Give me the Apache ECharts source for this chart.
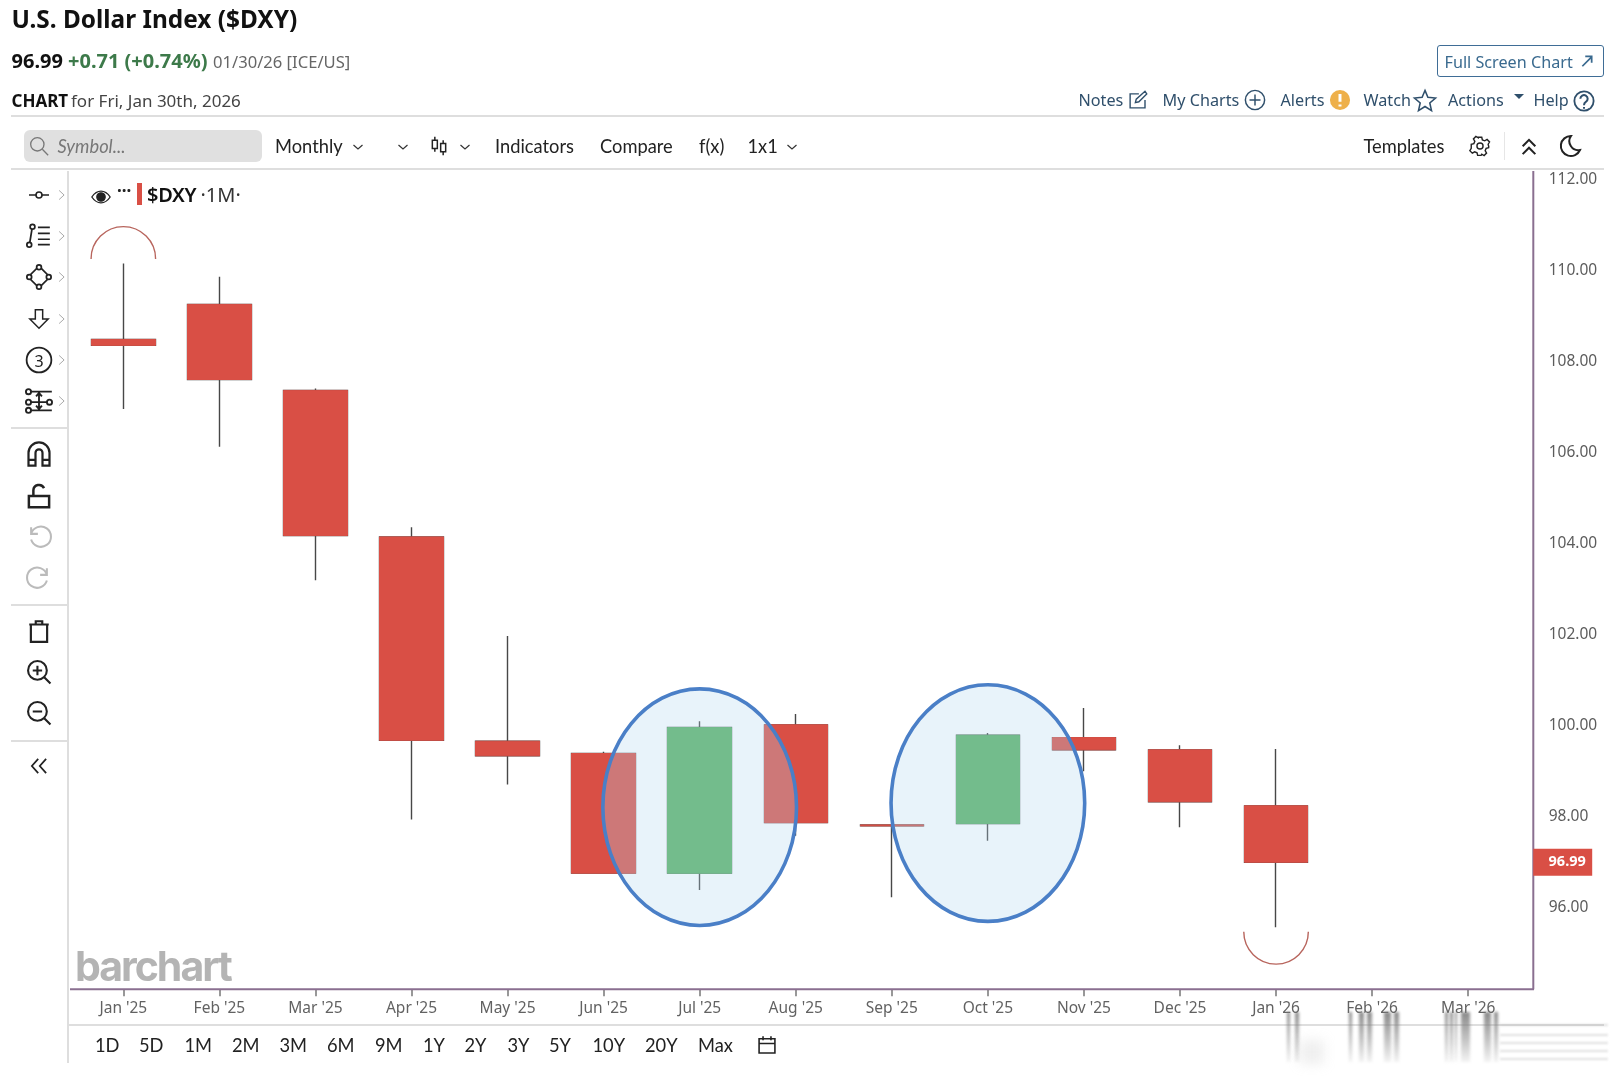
<!DOCTYPE html>
<html>
<head>
<meta charset="utf-8">
<title>U.S. Dollar Index ($DXY)</title>
<script src="https://cdn.jsdelivr.net/npm/echarts@6/dist/echarts.min.js"></script>
<style>
  html, body { margin: 0; padding: 0; background: #fff; }
  #page { position: relative; width: 1615px; height: 1080px; overflow: hidden; }
  #chart { position: absolute; left: 0; top: 0; width: 1615px; height: 1080px; }
  .t { position: absolute; white-space: nowrap; transform: translateY(-50%); line-height: 1; }
  .lato { font-family: Lato, sans-serif; font-size: 18.3px; color: #222; }
  .link { font-family: "Noto Sans", sans-serif; font-size: 16.2px; color: #2f4f6b; }
  .sans { font-family: "Noto Sans", sans-serif; }
  .rule { position: absolute; background: #dedede; }
  .icon { position: absolute; transform: translate(-50%, -50%); overflow: visible; fill: none; stroke: #222; stroke-width: 1.6; }
  .smudge { position: absolute; top: 1012px; height: 50px; background: linear-gradient(rgba(125,125,125,.9), rgba(160,160,160,.12)); filter: blur(1.5px); }
</style>
</head>
<body>
<div id="page">
  <div id="chart"></div>
</div>
<script>
  "use strict";

  // monthly candles
  var categories = ["Jan '25", "Feb '25", "Mar '25", "Apr '25", "May '25", "Jun '25", "Jul '25", "Aug '25",
    "Sep '25", "Oct '25", "Nov '25", "Dec '25", "Jan '26", "Feb '26", "Mar '26"];
  var opens = [108.48, 109.25, 107.36, 104.14, 99.65, 99.38, 96.75, 100.01, 97.81, 97.84, 99.73, 99.46, 98.23];
  var closes = [108.35, 107.60, 104.17, 99.67, 99.33, 96.75, 99.95, 97.86, 97.79, 99.78, 99.46, 98.32, 96.99];
  var lows = [106.95, 106.12, 103.19, 97.93, 98.70, 96.75, 96.38, 97.57, 96.22, 97.46, 98.99, 97.76, 95.56];
  var highs = [110.15, 109.86, 107.40, 104.35, 101.96, 99.42, 100.09, 100.25, 97.81, 99.83, 100.38, 99.56, 99.48];
  var priceTicks = [96, 98, 100, 102, 104, 106, 108, 110, 112];

  // hand drawn marks on the chart: [category index, centre value]
  var circledMonths = [[6, 98.2], [9, 98.29]];
  var topArcs = [[0, 110.25]];
  var bottomArcs = [[12, 95.46]];
  var lastPrice = 96.99;

  var RED = "#d94f45";
  var GREEN = "#58b062"; // looks paler once the blue circle sits on it
  var WICK = "#474747";
  var FRAME = "#8a6f90";

  var candleData = opens.map(function (o, i) { return [o, closes[i], lows[i], highs[i]]; });
  var bodyData = opens.map(function (o, i) {
    return [o, closes[i], Math.min(o, closes[i]), Math.max(o, closes[i])];
  });

  function renderCircle(params, api) {
    var c = api.coord([api.value(0), api.value(1)]);
    var rx = api.size([1, 0])[0] * 1.008;
    var ry = api.size([0, 2.6])[1];
    return {
      type: "ellipse",
      shape: { cx: c[0], cy: c[1], rx: rx, ry: ry },
      style: { fill: "rgba(178,215,238,0.3)", stroke: "#4a7fc7", lineWidth: 3.6 }
    };
  }

  function renderArc(start, end) {
    return function (params, api) {
      var c = api.coord([api.value(0), api.value(1)]);
      return {
        type: "arc",
        shape: { cx: c[0], cy: c[1], r: api.size([1, 0])[0] * 0.336, startAngle: start, endAngle: end, clockwise: true },
        style: { fill: null, stroke: "#b8655d", lineWidth: 1.4 }
      };
    };
  }

  function renderLastPrice(params, api) {
    var y = api.coord([0, api.value(1)])[1];
    var x = params.coordSys.x + params.coordSys.width + 17;
    return {
      type: "group",
      children: [
        { type: "rect", shape: { x: x, y: y - 13.5, width: 59, height: 27 }, style: { fill: RED } },
        {
          type: "text",
          x: x + 34,
          y: y,
          style: {
            text: api.value(1).toFixed(2), fill: "#fff", font: "bold 14.5px 'Noto Sans'",
            align: "center", verticalAlign: "middle"
          }
        }
      ]
    };
  }

  var chart = echarts.init(document.getElementById("chart"), null, { renderer: "canvas" });
  chart.setOption({
    animation: false,
    backgroundColor: "transparent",
    grid: { left: 75.3, top: 171.1, width: 1440.9, height: 818.1 },
    xAxis: {
      type: "category",
      data: categories,
      axisLine: { show: false },
      axisTick: { show: true, alignWithLabel: true, length: 7, lineStyle: { color: "#777", width: 1.5 } },
      axisLabel: { color: "#626262", fontFamily: "Noto Sans", fontSize: 15.5, margin: 11, interval: 0 }
    },
    yAxis: {
      type: "value",
      position: "right",
      min: 94.2,
      max: 112.18,
      axisLine: { show: false },
      axisTick: { show: false },
      splitLine: { show: false },
      axisLabel: {
        customValues: priceTicks,
        color: "#5c5c5c",
        fontFamily: "Noto Sans",
        fontSize: 15.5,
        margin: 32.5,
        padding: [3, 0, 0, 0],
        formatter: function (v) { return v.toFixed(2); }
      }
    },
    graphic: [
      { type: "line", z: 5, shape: { x1: 70, y1: 989.2, x2: 1534, y2: 989.2 }, style: { stroke: FRAME, lineWidth: 2 } },
      { type: "line", z: 5, shape: { x1: 1533.3, y1: 171, x2: 1533.3, y2: 989.2 }, style: { stroke: FRAME, lineWidth: 2 } }
    ],
    series: [
      {
        name: "wicks",
        type: "candlestick",
        data: candleData,
        barWidth: 64,
        itemStyle: { color: WICK, color0: WICK, borderColor: WICK, borderColor0: WICK, borderWidth: 1.4 },
        silent: true,
        z: 2
      },
      {
        name: "$DXY",
        type: "candlestick",
        data: bodyData,
        barWidth: 64,
        // rising month green, falling month red
        itemStyle: { color: GREEN, color0: RED, borderColor: GREEN, borderColor0: RED, borderWidth: 1 },
        z: 3
      },
      { type: "custom", name: "circled", data: circledMonths, renderItem: renderCircle, silent: true, z: 4 },
      { type: "custom", name: "top arc", data: topArcs, renderItem: renderArc(Math.PI, Math.PI * 2), silent: true, z: 4 },
      { type: "custom", name: "bottom arc", data: bottomArcs, renderItem: renderArc(0, Math.PI), silent: true, z: 4 },
      { type: "custom", name: "last", data: [[0, lastPrice]], renderItem: renderLastPrice, silent: true, z: 6 }
    ]
  });

  // page furniture around the chart
  var page = document.getElementById("page");

  function text(str, x, y, cls, css) {
    var el = document.createElement("span");
    el.className = "t " + (cls || "");
    el.textContent = str;
    el.style.left = x + "px";
    el.style.top = y + "px";
    if (css) el.style.cssText += ";" + css;
    page.appendChild(el);
  }

  function rule(x, y, w, h, color) {
    var el = document.createElement("div");
    el.className = "rule";
    el.style.cssText = "left:" + x + "px;top:" + y + "px;width:" + w + "px;height:" + h + "px;" + (color ? "background:" + color : "");
    page.appendChild(el);
  }

  function icon(x, y, size, body, css) {
    var holder = document.createElement("div");
    holder.innerHTML = '<svg class="icon" width="' + size + '" height="' + size + '" viewBox="0 0 24 24" style="left:' + x + "px;top:" + y + "px;" + (css || "") + '">' + body + "</svg>";
    page.appendChild(holder.firstChild);
  }

  rule(11, 115, 1593, 2);
  rule(11, 168, 1593, 2);
  rule(67, 171, 1.5, 892);
  rule(67, 1024, 1537, 1.5);
  rule(11, 427, 56, 1.5);
  rule(11, 604, 56, 1.5);
  rule(11, 740, 56, 1.5);
  rule(1504, 132, 1, 28, "#e6e6e6");

  text("U.S. Dollar Index ($DXY)", 11.5, 19, "sans", "font-size:24.4px;font-weight:700;color:#111");
  text("96.99", 11.5, 60.5, "sans", "font-size:20px;font-weight:700;color:#111");
  text("+0.71 (+0.74%)", 68, 60.5, "sans", "font-size:20px;font-weight:700;color:#3d7a4a");
  text("01/30/26 [ICE/US]", 213, 61.5, "sans", "font-size:16.6px;color:#666");
  text("CHART", 11.5, 99.5, "sans", "font-size:17px;font-weight:700;color:#111");
  text("for Fri, Jan 30th, 2026", 71, 99.5, "sans", "font-size:17px;color:#444");

  // top right links
  var box = document.createElement("div");
  box.style.cssText = "position:absolute;left:1437px;top:45px;width:165px;height:30px;border:1.5px solid #3f6d96;border-radius:3px";
  page.appendChild(box);
  text("Full Screen Chart", 1444.5, 62, "link", "color:#3a6a8f");
  icon(1587, 61, 14, '<path d="M4 21 20 5M9 4h11v11" stroke-width="3"/>', "stroke:#3a6a8f");
  text("Notes", 1078.5, 100, "link");
  icon(1138, 100, 21, '<path d="M20 12v9H3V5h10M9 15l1-4L20 2l2 3-9 9z"/>', "stroke:#2f4f6b");
  text("My Charts", 1162.5, 100, "link");
  icon(1255, 100, 22, '<circle cx="12" cy="12" r="10.5"/><path d="M12 6v12M6 12h12"/>', "stroke:#2f4f6b");
  text("Alerts", 1280.5, 100, "link");
  icon(1340, 100, 21, '<circle cx="12" cy="12" r="11.5" fill="#eeb04a" stroke="none"/><path d="M12 5v9M12 17v2.4" stroke="#fff" stroke-width="3.4"/>');
  text("Watch", 1363.5, 100, "link");
  icon(1425, 100, 23, '<path d="M12 2l3 7.200 8 .7-6 5.200 1.800 7.900-6.800-4.200-6.800 4.200 1.800-7.900-6-5.200 8-.7z"/>', "stroke:#2f4f6b");
  text("Actions", 1448, 100, "link");
  icon(1519, 97, 12, '<path d="M2 6h20l-10 10z" fill="#2f4f6b" stroke="none"/>');
  text("Help", 1533.5, 100, "link");
  icon(1584, 101, 22, '<circle cx="12" cy="12" r="10.5" stroke-width="2"/><path d="M8 9.500a4 4 0 1 1 6 3.500c-1.500 1-2 1.500-2 3.500M12 18.500v2" stroke-width="2.200"/>', "stroke:#2f4f6b");

  // toolbar
  var search = document.createElement("div");
  search.style.cssText = "position:absolute;left:24px;top:130px;width:238px;height:32px;background:#e0e0e0;border-radius:6px";
  page.appendChild(search);
  icon(39, 146, 20, '<circle cx="10" cy="10" r="8"/><path d="M16 16l7 7"/>', "stroke:#777");
  text("Symbol...", 57.5, 146, "lato", "font-style:italic;color:#777");
  text("Monthly", 275, 146, "lato");
  text("Indicators", 495, 146, "lato");
  text("Compare", 600, 146, "lato");
  text("f(x)", 699, 146, "lato");
  text("1x1", 747.5, 146, "lato");
  text("Templates", 1363.5, 146, "lato");
  [358, 403, 465, 792].forEach(function (x) {
    icon(x, 147, 12, '<path d="M3 8l9 8 9-8" stroke-width="2.400"/>', "stroke:#333");
  });
  icon(439, 146, 20, '<path d="M7 1v4M7 15v4M4 5h6v10H4zM17 5v4M17 19v4M14 9h6v10h-6z" stroke-width="1.800"/>');
  icon(1480, 146, 21, '<circle cx="12" cy="12" r="3.500"/><path d="M10 2h4l.7 3 2.700 1.100 2.700-1.600 2.800 2.800-1.600 2.700L22 12.700l-.1 1.300-2.900.7-1.100 2.700 1.600 2.700-2.800 2.800-2.700-1.600-.7 1.400h-4l-.7-3-2.700-1.100-2.700 1.600-2.800-2.800 1.600-2.700L2 14v-4l3-.7 1.100-2.700L4.500 3.900l2.800-2.800 2.700 1.600z"/>');
  icon(1529, 147, 19, '<path d="M4 11l8-8 8 8M4 21l8-8 8 8" stroke-width="2.600"/>');
  icon(1570, 146, 24, '<path d="M13 2a10 10 0 1 0 9 14A9 9 0 0 1 13 2z" stroke-width="2"/>');

  // legend row
  icon(100.5, 197, 20, '<path d="M1 12c4-6 8-7 11-7s7 1 11 7c-4 6-8 7-11 7s-7-1-11-7z"/><circle cx="12" cy="12" r="5" fill="#222"/>');
  text("\u00b7\u00b7\u00b7", 117, 190, "sans", "font-size:17px;font-weight:700;color:#222");
  rule(136.5, 183, 5, 22, RED);
  text("$DXY", 147, 195, "sans", "font-size:20px;font-weight:600;color:#111;letter-spacing:-.3px");
  text("\u00b71M\u00b7", 200.5, 195, "sans", "font-size:20px;color:#333");

  // drawing tools on the left
  var toolY = [195, 236, 277, 319, 360, 401];
  toolY.forEach(function (y) {
    icon(62, y, 10, '<path d="M5 1l12 11L5 23" stroke-width="2"/>', "stroke:#999");
  });
  icon(39, 195, 24, '<path d="M2 12h7M15 12h7"/><circle cx="12" cy="12" r="3"/>');
  icon(39, 236, 26, '<circle cx="6" cy="3.500" r="2.200"/><circle cx="3" cy="20" r="2.200"/><path d="M5.500 5.700 3.500 18M11 4h11M11 9.500h11M11 15h11M11 20h11"/>');
  icon(39, 277, 26, '<path d="M12 2 22 12 12 22 2 12z"/><circle cx="12" cy="3" r="2.200" fill="#fff"/><circle cx="12" cy="21" r="2.200" fill="#fff"/><circle cx="3" cy="12" r="2.200" fill="#fff"/><circle cx="21" cy="12" r="2.200" fill="#fff"/>');
  icon(39, 319, 22, '<path d="M8 2h8v10h6L12 22 2 12h6z"/>');
  icon(39, 360, 27, '<circle cx="12" cy="12" r="11"/>');
  text("3", 34.5, 361, "sans", "font-size:16px;color:#222");
  icon(39, 401, 28, '<circle cx="3" cy="4" r="2.200"/><circle cx="3" cy="13" r="2.200"/><circle cx="3" cy="20" r="2.200"/><circle cx="21" cy="13" r="2.200"/><path d="M5 4h18M5 13h14M5 20h18M12 5v14M9.500 8 12 5l2.500 3M9.500 16l2.500 3 2.500-3"/>');
  icon(39, 454, 28, '<path d="M3 22V11a9 9 0 0 1 18 0v11h-6V11a3 3 0 0 0-6 0v11zM3 17h6M15 17h6" stroke-width="1.900"/>');
  icon(39, 496, 27, '<path d="M3 12h18v10H3zM7 12V7a5 5 0 0 1 9.500-2" stroke-width="2.200"/>');
  icon(39, 535, 27, '<path d="M5 5v6h6M5 11a9 9 0 1 1 0 5" stroke-width="1.800"/>', "stroke:#bbb");
  icon(39, 576, 27, '<path d="M19 5v6h-6M19 11a9 9 0 1 0 0 5" stroke-width="1.800"/>', "stroke:#bbb");
  icon(39, 631, 26, '<path d="M3 6h18M9 6V3h6v3M4.500 6v16h15V6" stroke-width="2"/>');
  icon(39, 672, 25, '<circle cx="10.500" cy="10.500" r="9" stroke-width="2"/><path d="M6 10.500h9M10.500 6v9M17 17l6 6" stroke-width="2"/>');
  icon(39, 713, 25, '<circle cx="10.500" cy="10.500" r="9" stroke-width="2"/><path d="M6 10.500h9M17 17l6 6" stroke-width="2"/>');
  icon(39, 766, 19, '<path d="M11 3 3 12l8 9M21 3l-8 9 8 9" stroke-width="2.200"/>');

  text("barchart", 75, 966, "", "font-family:Inter,sans-serif;font-size:41px;font-weight:700;color:#b4b4b4;letter-spacing:-2px");

  // period buttons
  var periods = [["1D", 95], ["5D", 139], ["1M", 184.5], ["2M", 232], ["3M", 279.5], ["6M", 327], ["9M", 375], ["1Y", 423],
    ["2Y", 464.5], ["3Y", 507.5], ["5Y", 549], ["10Y", 592.5], ["20Y", 645], ["Max", 698]];
  periods.forEach(function (p) { text(p[0], p[1], 1045, "lato"); });
  icon(767, 1045, 19, '<path d="M2 4h20v18H2zM2 10h20M7 1v5M17 1v5" stroke-width="2"/>');

  // blurred watermark over the bottom right
  [[1287, 3], [1295, 4], [1349, 3], [1359, 5], [1367, 5], [1384, 7], [1394, 5],
    [1445, 3], [1450, 3], [1455, 2], [1461, 9], [1484, 7], [1494, 4]].forEach(function (b) {
    var el = document.createElement("div");
    el.className = "smudge";
    el.style.left = b[0] + "px";
    el.style.width = b[1] + "px";
    page.appendChild(el);
  });
  rule(1300, 1040, 24, 24, "rgba(190,190,190,.25)");
  page.lastChild.style.filter = "blur(6px)";
  [1024, 1034, 1042, 1050, 1058].forEach(function (y) {
    rule(1500, y, 108, 1.5, "rgba(170,170,170,.35)");
    page.lastChild.style.filter = "blur(1px)";
  });
</script>
</body>
</html>
